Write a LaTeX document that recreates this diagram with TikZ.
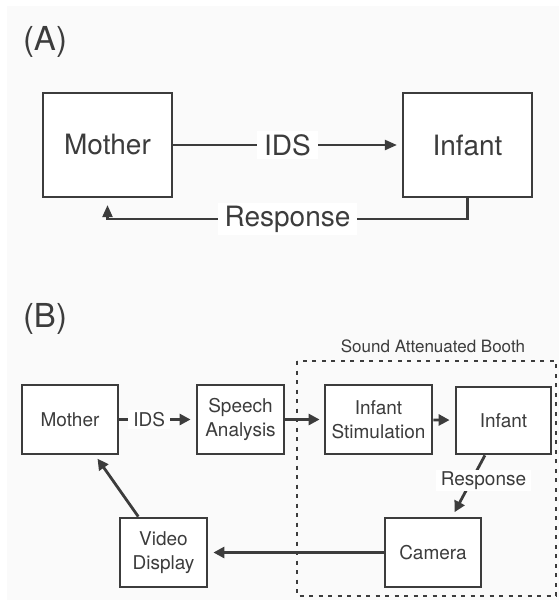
\documentclass[tikz,border=0pt]{standalone}
\usepackage{fontspec}
\setmainfont{TeX Gyre Heros}
\usetikzlibrary{arrows.meta}

\definecolor{ink}{HTML}{3C3C3C}
\definecolor{paper}{HTML}{FAFAFA}

\tikzset{
	bigbox/.style={draw=ink, fill=white, line width=2.2pt, minimum width=129pt, minimum height=104pt, inner sep=0pt, font=\fontsize{28}{32}\selectfont},
	smallbox/.style={draw=ink, fill=white, line width=2.8pt, minimum height=69pt, inner sep=0pt, align=center, font=\fontsize{19}{23.5}\selectfont},
	toparrow/.style={draw=ink, line width=2.2pt, -{Triangle[length=12pt,width=10pt]}},
	botarrow/.style={draw=ink, line width=2.8pt, -{Triangle[length=11pt,width=11pt]}},
	toplabel/.style={fill=white, inner xsep=7pt, inner ysep=3pt, font=\fontsize{28}{32}\selectfont},
	botlabel/.style={fill=white, inner xsep=5pt, inner ysep=2pt, font=\fontsize{19}{22}\selectfont}
}

\begin{document}
\begin{tikzpicture}[x=1pt, y=-1pt, color=ink, text=ink]
		\useasboundingbox (0, 0) rectangle (559, 600);
		\fill[white] (0, 0) rectangle (559, 600);
		\fill[paper] (7, 6) rectangle (559, 600);
		\node[font=\fontsize{33}{36}\selectfont] (labelA) at (45, 42) {(A)};
		\node[font=\fontsize{33}{36}\selectfont] (labelB) at (45, 319) {(B)};
		\node[bigbox] (mother) at (107.5, 145) {Mother};
		\node[bigbox] (infant) at (467.5, 145) {Infant};
		\draw[toparrow, shorten >=5pt] (mother) -- node[toplabel] {IDS} (infant);
		\draw[toparrow, shorten >=7pt] (infant.south) -- ++(0, 21) -| node[toplabel, pos=0.25] {Response} (mother.south);
		\draw[ink, line width=2.5pt, dash pattern=on 4pt off 5.5pt] (297, 361) rectangle (556, 596);
		\node[font=\fontsize{17}{20}\selectfont] (booth) at (433, 346) {Sound Attenuated Booth};
		\node[smallbox, minimum width=96pt] (bmother) at (70, 419.5) {Mother};
		\node[smallbox, minimum width=87pt] (speech) at (240.5, 419.5) {Speech\\Analysis};
		\node[smallbox, minimum width=107pt] (stim) at (378.5, 419.5) {Infant\\Stimulation};
		\node[smallbox, minimum width=95pt, minimum height=67pt] (binfant) at (503.5, 420.5) {Infant};
		\node[smallbox, minimum width=96pt] (camera) at (433, 552.5) {Camera};
		\node[smallbox, minimum width=87pt] (video) at (163.5, 552.5) {Video\\Display};
		\draw[botarrow, shorten >=5pt] (bmother) -- node[botlabel, pos=0.39] {IDS} (speech);
		\draw[botarrow, shorten >=4pt] (speech) -- (stim);
		\draw[botarrow, shorten >=5pt] (stim) -- (binfant);
		\draw[botarrow, shorten >=5pt] (binfant) -- node[botlabel, pos=0.41, xshift=12pt] {Response} (camera);
		\draw[botarrow, shorten >=5pt] (camera) -- (video);
		\draw[botarrow, shorten >=4pt] (video) -- (bmother);
	\end{tikzpicture}
\end{document}
